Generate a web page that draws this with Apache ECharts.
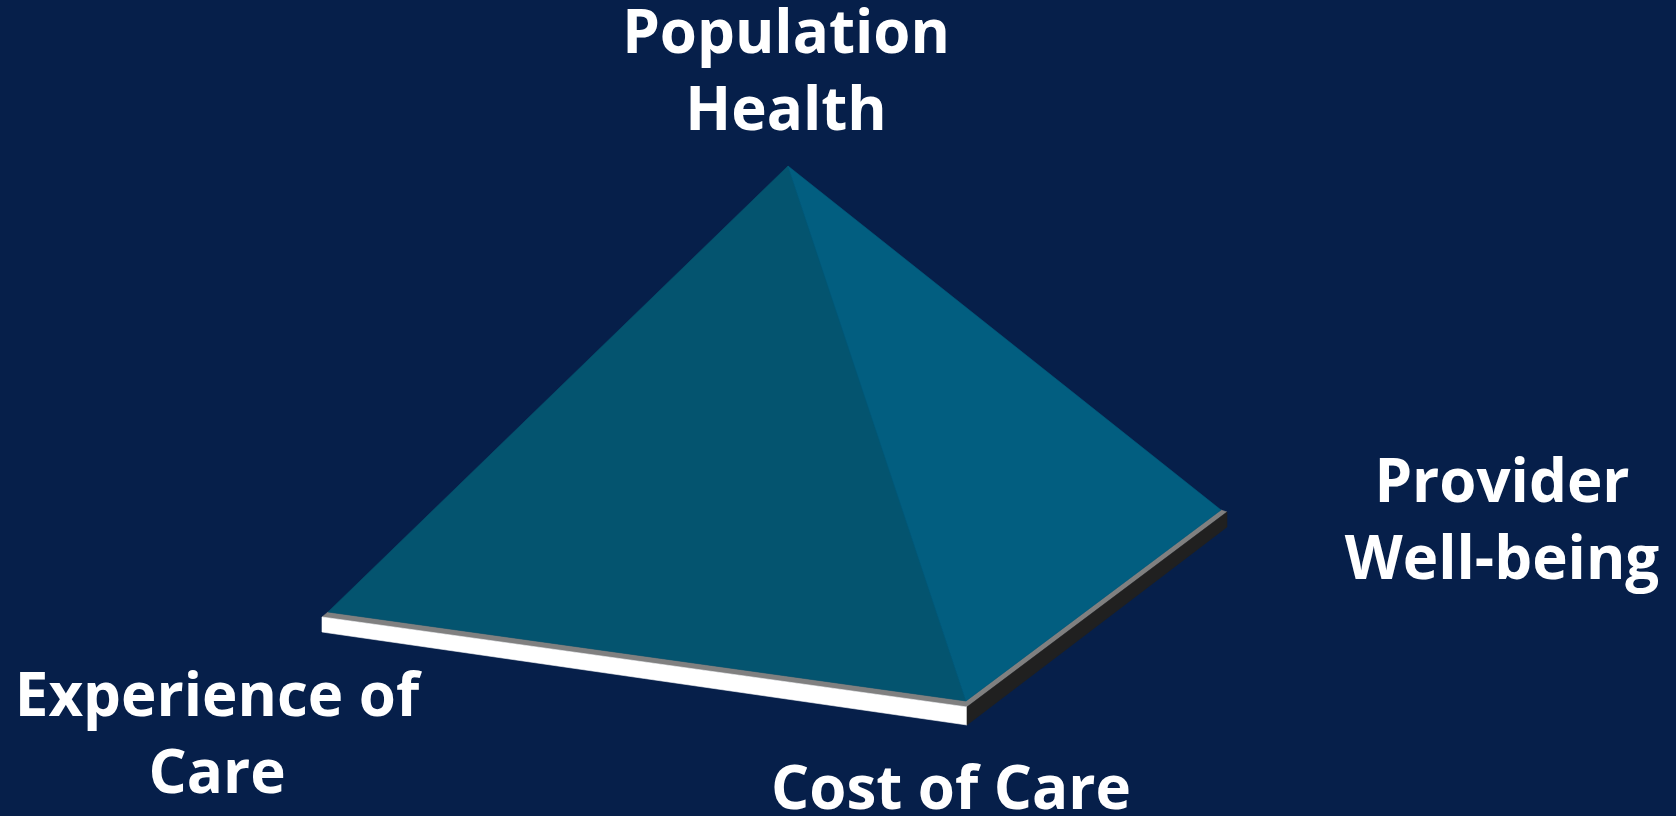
<!DOCTYPE html>
<html>
<head>
<meta charset="utf-8">
<title>Population Health Pyramid</title>
<script src="https://cdn.jsdelivr.net/npm/echarts@6/dist/echarts.min.js"></script>
<style>
  html, body { margin: 0; padding: 0; background: #061f4a; }
  #chart { width: 1676px; height: 816px; }
</style>
</head>
<body>
<div id="chart"></div>
<script>
// Diagram space: x grows right, y grows down (0..1676, 0..816).
const apex = [788, 166];
const baseLeft = [328, 612];
const baseFront = [966, 701];
const baseRight = [1221, 510];

// Plinth under the pyramid: top corners and thickness at each corner
const plinthLeft = [322, 617];
const plinthFront = [967, 707];
const plinthRight = [1227, 512];
const plinthDepth = [15, 18, 15];

// Corner labels and where each block of text is centred
const labelText = ['Population\nHealth', 'Experience of\nCare', 'Provider\nWell-being', 'Cost of Care'];
const labelX = [786, 217, 1502, 951];
const labelY = [74, 737, 523, 792];

const colors = {
  background: '#061f4a',
  faceLeft: '#04546f',
  faceRight: '#025e80',
  plinthTop: '#808080',
  plinthFrontSide: '#ffffff',
  plinthRightSide: '#202020',
  text: '#ffffff'
};

const down = (p, d) => [p[0], p[1] + d];

// Polygons, painted back to front
const polygons = [
  { pts: [plinthLeft, plinthFront, plinthRight, baseRight, baseFront, baseLeft], color: colors.plinthTop },
  { pts: [plinthLeft, plinthFront, down(plinthFront, plinthDepth[1]), down(plinthLeft, plinthDepth[0])], color: colors.plinthFrontSide },
  { pts: [plinthFront, plinthRight, down(plinthRight, plinthDepth[2]), down(plinthFront, plinthDepth[1])], color: colors.plinthRightSide },
  { pts: [apex, baseLeft, baseFront], color: colors.faceLeft },
  { pts: [apex, baseFront, baseRight], color: colors.faceRight }
];

const chart = echarts.init(document.getElementById('chart'), null, { renderer: 'canvas' });

chart.setOption({
  backgroundColor: colors.background,
  animation: false,
  grid: { left: 0, right: 0, top: 0, bottom: 0 },
  xAxis: { type: 'value', min: 0, max: 1676, show: false },
  yAxis: { type: 'value', min: 0, max: 816, inverse: true, show: false },
  series: [
    {
      type: 'custom',
      coordinateSystem: 'cartesian2d',
      data: polygons.map((p, i) => [i]),
      renderItem: function (params, api) {
        const poly = polygons[params.dataIndex];
        return {
          type: 'polygon',
          shape: { points: poly.pts.map(pt => api.coord(pt)) },
          style: { fill: poly.color, stroke: poly.color, lineWidth: 0.6 }
        };
      },
      silent: true
    },
    {
      type: 'scatter',
      symbolSize: 0,
      itemStyle: { opacity: 1 },
      data: labelText.map((t, i) => ({ name: t, value: [labelX[i], labelY[i]] })),
      label: {
        show: true,
        position: 'inside',
        formatter: p => p.name,
        color: colors.text,
        opacity: 1,
        fontFamily: '"Open Sans", sans-serif',
        fontWeight: 'bold',
        fontSize: 60,
        lineHeight: 77,
        align: 'center',
        verticalAlign: 'middle'
      },
      silent: true
    }
  ]
});
</script>
</body>
</html>
